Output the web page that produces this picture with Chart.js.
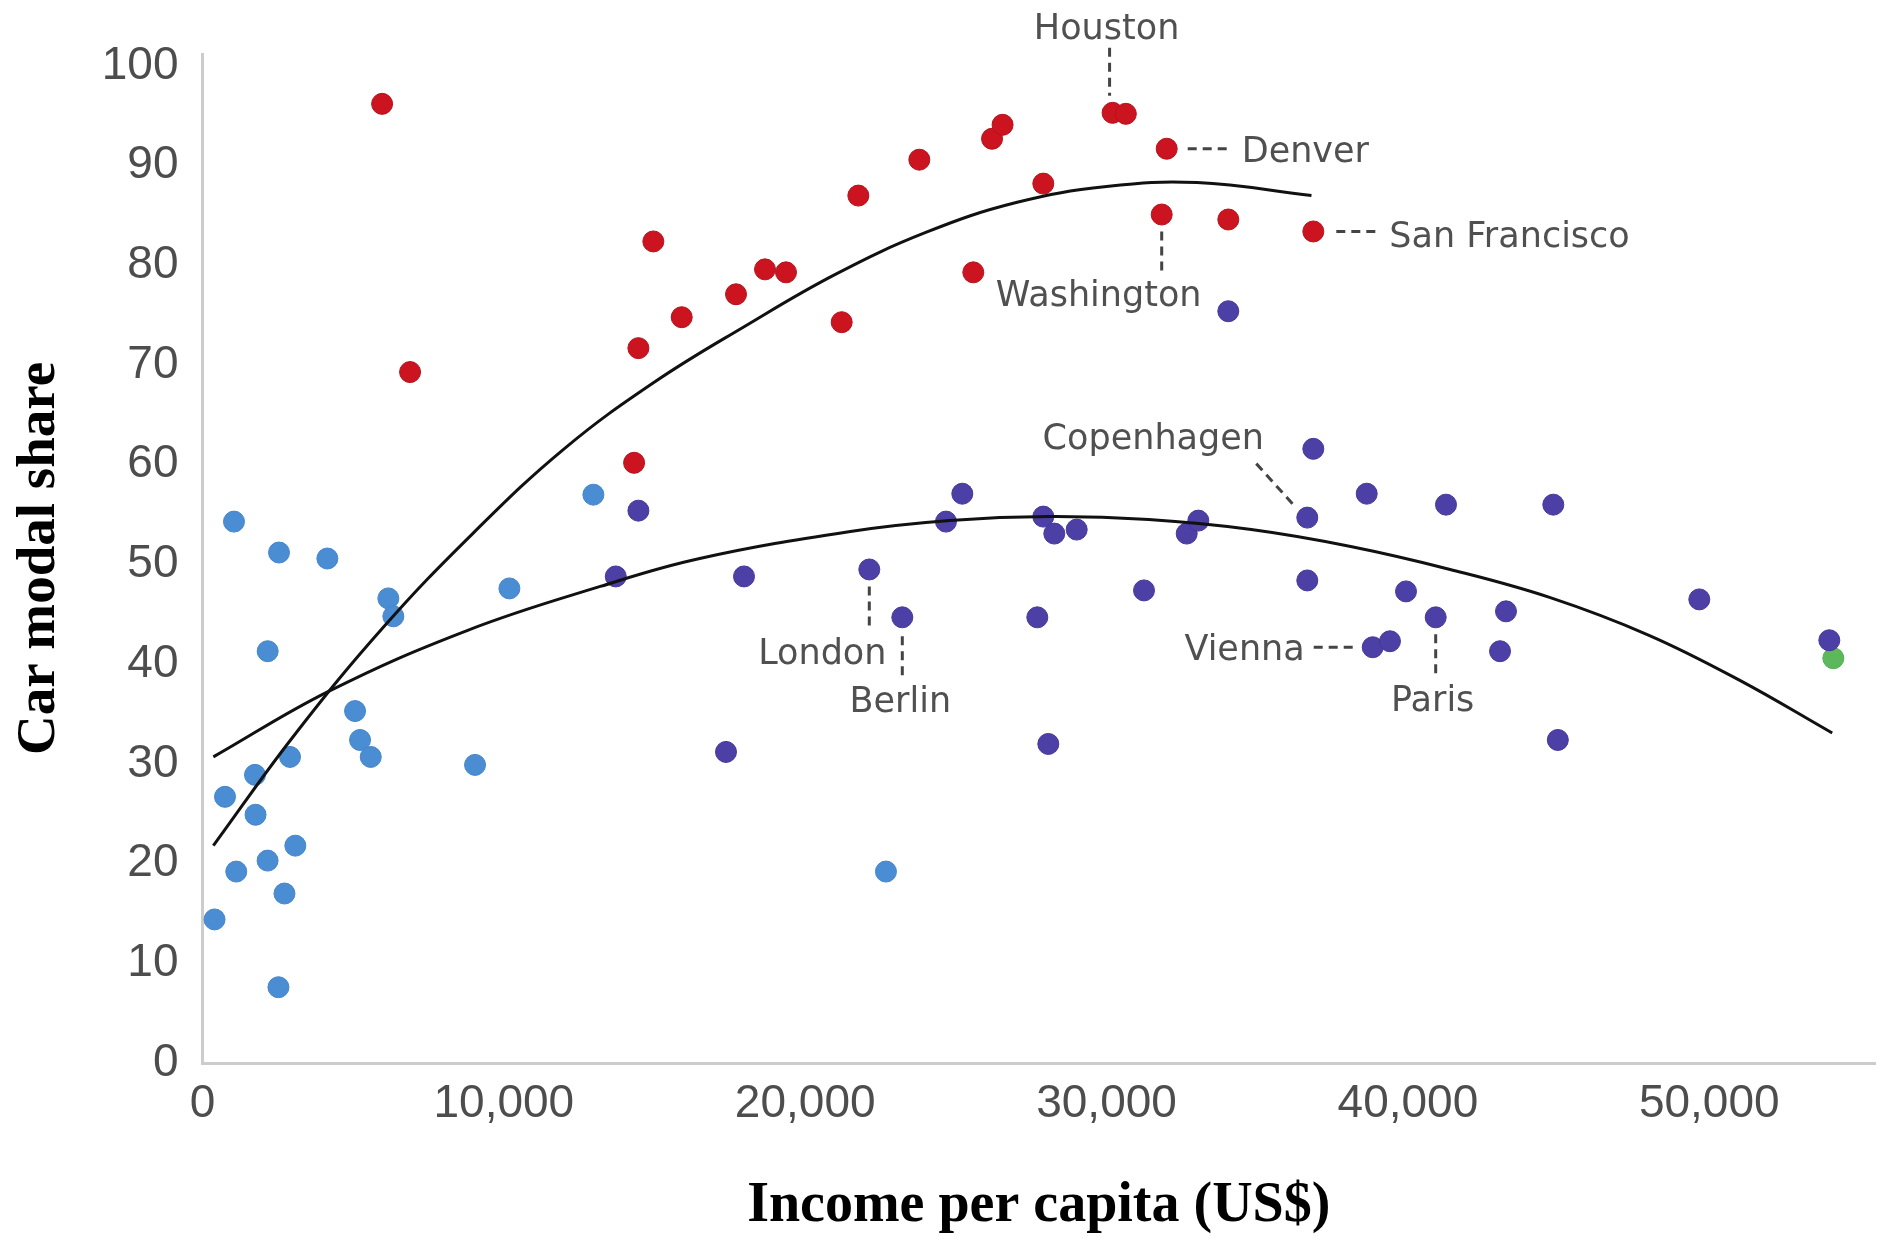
<!DOCTYPE html>
<html>
<head>
<meta charset="utf-8">
<script src="https://cdn.jsdelivr.net/npm/chart.js@4.4.1/dist/chart.umd.min.js"></script>
<style>
html,body{margin:0;padding:0;background:#ffffff;}
#wrap{width:1890px;height:1240px;}
</style>
</head>
<body>
<div id="wrap"><canvas id="c" width="1890" height="1240"></canvas></div>
<script>
// ---- Data ----
const xTickValues = [0, 10000, 20000, 30000, 40000, 50000];
const yTickValues = [0, 10, 20, 30, 40, 50, 60, 70, 80, 90, 100];

// US cities (red)
const redX = [5960, 6888, 14322, 14465, 14960, 15902, 17704, 18666, 19363, 21211, 21763, 23787, 25578, 26200, 26550, 27901, 30200, 30640, 31830, 31996, 34040, 36861];
const redY = [96.2, 69.3, 60.2, 71.7, 82.4, 74.8, 77.1, 79.6, 79.3, 74.3, 87.0, 90.6, 79.3, 92.7, 94.1, 88.2, 95.3, 95.2, 85.1, 91.7, 84.6, 83.4];

// Lower-income cities (light blue)
const blueX = [400, 747, 1045, 1120, 1742, 1760, 2160, 2163, 2520, 2539, 2720, 2904, 3080, 4143, 5062, 5228, 5583, 6167, 6333, 9044, 10184, 12971, 22680];
const blueY = [14.4, 26.7, 54.3, 19.2, 28.9, 24.9, 20.3, 41.3, 7.6, 51.2, 17.0, 30.7, 21.8, 50.6, 35.3, 32.4, 30.7, 46.6, 44.8, 29.9, 47.6, 57.0, 19.2];

// European / other high-income cities (purple)
const purpleX = [13714, 14465, 17372, 17969, 22127, 23222, 24672, 25213, 27702, 27901, 28067, 28266, 29009, 31243, 32660, 33045, 34040, 36661, 36661, 36861, 38633, 38832, 39405, 39937, 40922, 41264, 43057, 43255, 44825, 44975, 49670, 53984];
const purpleY = [48.8, 55.4, 31.2, 48.8, 49.5, 44.7, 54.3, 57.1, 44.7, 54.8, 32.0, 53.1, 53.5, 47.4, 53.1, 54.4, 75.4, 54.7, 48.4, 61.6, 57.1, 41.7, 42.3, 47.3, 44.7, 56.0, 41.3, 45.3, 56.0, 32.4, 46.5, 42.4];

// Single green point
const greenX = [54117];
const greenY = [40.6];

// Trend curves, points
const upperCurveX = [360, 3000, 6000, 9000, 12000, 15000, 18000, 21000, 24000, 27000, 30000, 33000, 36800];
const upperCurveY = [21.8, 32.7, 43.7, 53.2, 61.6, 68.3, 73.9, 79.1, 83.3, 86.3, 87.9, 88.3, 87.0];
const lowerCurveX = [360, 4200, 8800, 13200, 16500, 21500, 24800, 28100, 31400, 34800, 38100, 41400, 44700, 48000, 51000, 54080];
const lowerCurveY = [30.7, 37.3, 43.4, 47.8, 50.6, 53.3, 54.4, 54.8, 54.5, 53.5, 51.8, 49.5, 46.7, 42.9, 38.4, 33.1];

// City labels: which point they refer to
const labelNames  = ['Houston', 'Denver', 'San Francisco', 'Washington', 'Copenhagen', 'London', 'Berlin', 'Vienna', 'Paris'];
const labelSeries = ['red', 'red', 'red', 'red', 'purple', 'purple', 'purple', 'purple', 'purple'];
const labelIndex  = [16, 19, 21, 18, 17, 4, 5, 21, 24];

// ---- Build datasets ----
const toPts = (xs, ys) => xs.map((x, i) => ({x: x, y: ys[i]}));

// label layout (pixel offsets relative to the labelled point)
const labelLayout = {
  'Houston':       {line: [-3, -65, -3, -17], tx: -6,   ty: -83, align: 'center'},
  'Denver':        {line: [21, 0, 63, 0],     tx: 75,   ty: 4,   align: 'left'},
  'San Francisco': {line: [23, 0, 65, 0],     tx: 76,   ty: 6,   align: 'left'},
  'Washington':    {line: [0, 17, 0, 58],     tx: -63,  ty: 82,  align: 'center'},
  'Copenhagen':    {line: [-51, -54, -14, -13], tx: -154, ty: -78, align: 'center'},
  'London':        {line: [0, 17, 0, 61],     tx: -47,  ty: 85,  align: 'center'},
  'Berlin':        {line: [0, 19, 0, 63],     tx: -2,   ty: 86,  align: 'center'},
  'Vienna':        {line: [-59, 0, -16, 0],   tx: -68,  ty: 4,   align: 'right'},
  'Paris':         {line: [0, 17, 0, 59],     tx: -3,   ty: 85,  align: 'center'}
};

const seriesDatasetIndex = {blue: 2, purple: 3, red: 4, green: 5};

const cityLabels = {
  id: 'cityLabels',
  afterDatasetsDraw(chart) {
    const ctx = chart.ctx;
    ctx.save();
    labelNames.forEach((name, i) => {
      const meta = chart.getDatasetMeta(seriesDatasetIndex[labelSeries[i]]);
      const el = meta.data[labelIndex[i]];
      if (!el) return;
      const px = el.x, py = el.y;
      const lay = labelLayout[name];
      ctx.strokeStyle = '#444444';
      ctx.lineWidth = 3;
      ctx.setLineDash([9, 6]);
      ctx.beginPath();
      ctx.moveTo(px + lay.line[0], py + lay.line[1]);
      ctx.lineTo(px + lay.line[2], py + lay.line[3]);
      ctx.stroke();
      ctx.setLineDash([]);
      ctx.fillStyle = '#505050';
      ctx.font = '35px "DejaVu Sans"';
      ctx.textAlign = lay.align;
      ctx.textBaseline = 'middle';
      ctx.fillText(name, px + lay.tx, py + lay.ty);
    });
    ctx.restore();
  }
};

Chart.defaults.font.family = '"Liberation Sans", Arial, sans-serif';

new Chart(document.getElementById('c'), {
  type: 'scatter',
  data: {
    datasets: [
      {
        type: 'line', label: 'trend upper', data: toPts(upperCurveX, upperCurveY),
        borderColor: '#111111', borderWidth: 3, pointRadius: 0, fill: false,
        tension: 0.4, order: 0
      },
      {
        type: 'line', label: 'trend lower', data: toPts(lowerCurveX, lowerCurveY),
        borderColor: '#111111', borderWidth: 3, pointRadius: 0, fill: false,
        tension: 0.4, order: 0
      },
      {
        label: 'blue', data: toPts(blueX, blueY),
        backgroundColor: '#4a8dd3', borderColor: '#4585cb', borderWidth: 1,
        pointRadius: 10.5, order: 1
      },
      {
        label: 'purple', data: toPts(purpleX, purpleY),
        backgroundColor: '#4c3fa5', borderColor: '#44389a', borderWidth: 1,
        pointRadius: 10.5, order: 1
      },
      {
        label: 'red', data: toPts(redX, redY),
        backgroundColor: '#cc1420', borderColor: '#b3121b', borderWidth: 1,
        pointRadius: 10.5, order: 1
      },
      {
        label: 'green', data: toPts(greenX, greenY),
        backgroundColor: '#5cb85a', borderColor: '#55ad53', borderWidth: 1,
        pointRadius: 10.5, order: 1
      }
    ]
  },
  options: {
    responsive: false,
    devicePixelRatio: 1,
    animation: false,
    layout: {padding: {top: 54, right: 15, left: 0, bottom: 0}},
    plugins: {legend: {display: false}, tooltip: {enabled: false}},
    scales: {
      x: {
        type: 'linear', min: 0, max: 55500,
        grid: {display: false, drawTicks: false},
        border: {display: true, color: '#cccccc', width: 3},
        afterBuildTicks: (s) => { s.ticks = xTickValues.map(v => ({value: v})); },
        afterFit: (s) => { s.height = 177; },
        ticks: {
          padding: 14, color: '#4d4d4d', font: {size: 46},
          callback: (v) => Number(v).toLocaleString('en-US')
        },
        title: {
          display: true, text: 'Income per capita (US$)', color: '#000000',
          font: {family: '"Liberation Serif", "Times New Roman", serif', weight: 'bold', size: 56},
          padding: {top: 0, bottom: 0}
        }
      },
      y: {
        type: 'linear', min: 0, max: 101.2,
        grid: {display: false, drawTicks: false},
        border: {display: true, color: '#cccccc', width: 3},
        afterBuildTicks: (s) => { s.ticks = yTickValues.map(v => ({value: v})); },
        afterFit: (s) => { s.width = 202.5; },
        ticks: {padding: 24, color: '#4d4d4d', font: {size: 46}},
        title: {
          display: true, text: 'Car modal share', color: '#000000',
          font: {family: '"Liberation Serif", "Times New Roman", serif', weight: 'bold', size: 55},
          padding: {top: 7, bottom: 0}
        }
      }
    }
  },
  plugins: [cityLabels]
});
</script>
</body>
</html>
